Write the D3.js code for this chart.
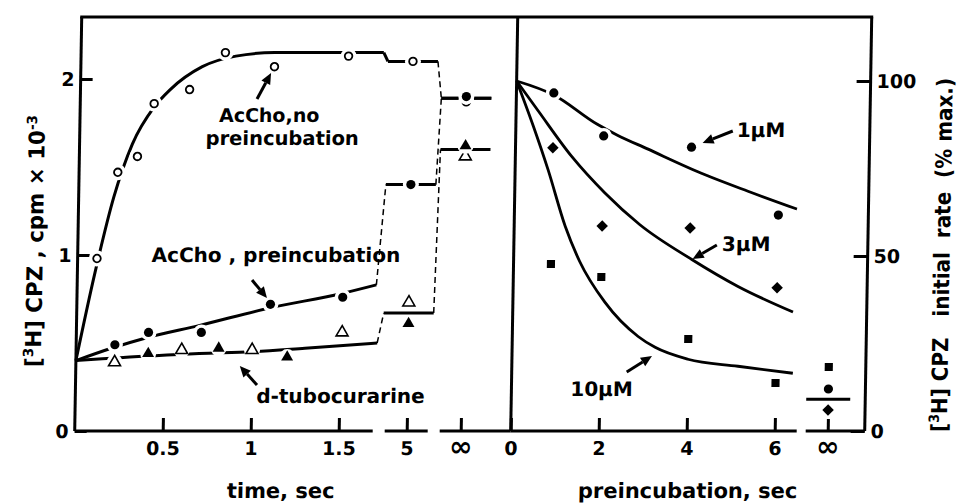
<!DOCTYPE html>
<html>
<head>
<meta charset="utf-8">
<script src="https://cdn.jsdelivr.net/npm/d3@7"></script>
<style>
  body { margin: 0; background: #fff; }
  svg { display: block; font-family: "DejaVu Sans", sans-serif; font-weight: bold; }
</style>
</head>
<body>
<svg id="chart" width="957" height="504"></svg>
<script>
// ---- left panel: [3H]CPZ uptake, cpm x 10^-3 vs time ----
const timeTicks = [0.5, 1, 1.5];
const breakLabels = ["5", "∞"];
const leftYTicks = [0, 1, 2];

// AcCho, no preincubation (open circles)
const noPreT = [0.11, 0.22, 0.33, 0.42, 0.62, 0.82, 1.10, 1.52];
const noPreV = [0.98, 1.47, 1.56, 1.86, 1.94, 2.15, 2.07, 2.13];
const noPreBreakV = [2.10, 1.87];
// AcCho, preincubation (filled circles)
const preT = [0.22, 0.41, 0.71, 1.10, 1.51];
const preV = [0.49, 0.56, 0.56, 0.72, 0.76];
const preBreakV = [1.40, 1.90];
// d-tubocurarine (open / filled triangles)
const tuboOpenT = [0.22, 0.60, 1.00, 1.51];
const tuboOpenV = [0.39, 0.46, 0.46, 0.56];
const tuboOpenBreakV = [0.73, 1.56];
const tuboFillT = [0.41, 0.81, 1.20];
const tuboFillV = [0.44, 0.47, 0.42];
const tuboFillBreakV = [0.61, 1.62];

// drawn curves
const noPreFitT = [0, 0.1, 0.2, 0.3, 0.42, 0.51, 0.69, 0.88, 1.1, 1.72];
const noPreFitV = [0.40, 0.90, 1.33, 1.63, 1.84, 1.94, 2.07, 2.13, 2.15, 2.15];
const noPreFitBreak = [2.10, 1.89];
const preFitT = [0, 0.2, 0.4, 0.7, 1.1, 1.5, 1.70];
const preFitV = [0.40, 0.47, 0.53, 0.60, 0.70, 0.78, 0.83];
const preFitBreak = [1.40, 1.89];
const tuboFitT = [0, 0.15, 0.7, 1.0, 1.3, 1.71];
const tuboFitV = [0.40, 0.41, 0.44, 0.45, 0.47, 0.50];
const tuboFitBreak = [0.67, 1.60];

// ---- right panel: initial rate (% max.) vs preincubation time ----
const preincTicks = [0, 2, 4, 6];
const rightYTicks = [0, 50, 100];
const preincT = [0.85, 2, 4, 6];
const rate1uM = [96.6, 84.3, 81.1, 61.7];
const rate3uM = [80.9, 58.6, 58.0, 40.9];
const rate10uM = [47.7, 44.0, 26.3, 13.7];
const rateInf = [12.0, 6.0, 18.3]; // 1, 3, 10 µM at ∞
const rateInfMean = 9.1;

const fit1T = [0, 0.85, 1.84, 2.3, 3, 4.32, 5.3, 6.42];
const fit1V = [100, 96, 87.7, 84.6, 80.6, 73.2, 68.5, 63.4];
const fit3T = [0, 0.5, 1.29, 2.05, 2.85, 4.05, 5.11, 6.37];
const fit3V = [100, 91.5, 78.3, 68, 59, 49, 41.3, 34];
const fit10T = [0, 0.4, 0.75, 1.16, 1.5, 2.09, 2.86, 3.25, 4, 5.14, 6.39];
const fit10V = [100, 87, 74.6, 58.5, 48.5, 36.8, 27, 23.9, 20.5, 18.5, 16.5];

const svg = d3.select("#chart");
// the printed figure is slightly sheared
const g = svg.append("g").attr("transform", "skewX(-0.97)");

const frameTop = 17, base = 431;
const xL = d3.scaleLinear().domain([0, 1.5]).range([82, 346]);
const xBreak = d3.scaleOrdinal().domain(breakLabels).range([414, 468]);
const yL = d3.scaleLinear().domain([0, 2]).range([base, 79]);
const xR = d3.scaleLinear().domain([0, 6]).range([518, 782]);
const xRinf = d3.scaleOrdinal().domain(["∞"]).range([835]);
const yR = d3.scaleLinear().domain([0, 100]).range([base, 81]);
const halfSeg = 25;
const plain = d => String(d);

function line(x1, y1, x2, y2, w, dash) {
  const l = g.append("line").attr("x1", x1).attr("y1", y1).attr("x2", x2).attr("y2", y2)
    .attr("stroke", "#000").attr("stroke-width", w || 3);
  if (dash) l.attr("stroke-dasharray", dash);
  return l;
}

// frame and broken x axes
line(xL(0), frameTop, 872, frameTop, 3).attr("stroke-linecap", "square");
line(xL(0), frameTop, xL(0), base, 3);
line(xR(0), frameTop, xR(0), base, 3);
line(872, frameTop, 872, base, 3);
line(xL(0), base, 380, base, 3);
line(392, base, 435, base, 3);
line(447, base, xR(0), base, 3);
line(xR(0), base, 804, base, 3);
line(813, base, 872, base, 3);

function styleAxis(sel) {
  sel.attr("font-family", null).attr("font-size", 19);
  sel.select(".domain").remove();
  sel.selectAll("line").attr("stroke-width", 3);
}

g.append("g").attr("transform", `translate(${xL(0)},0)`)
  .call(d3.axisLeft(yL).tickValues(leftYTicks).tickFormat(plain).tickSizeInner(-12).tickSizeOuter(0).tickPadding(6))
  .call(styleAxis);
g.append("g").attr("transform", `translate(0,${base})`)
  .call(d3.axisBottom(xL).tickValues(timeTicks).tickFormat(plain).tickSizeInner(-13).tickSizeOuter(0).tickPadding(11))
  .call(styleAxis);
g.append("g").attr("transform", `translate(0,${base})`)
  .call(d3.axisBottom(xBreak).tickSizeInner(-13).tickSizeOuter(0).tickPadding(11))
  .call(styleAxis);
g.append("g").attr("transform", `translate(872,0)`)
  .call(d3.axisRight(yR).tickValues(rightYTicks).tickFormat(plain).tickSizeInner(-14).tickSizeOuter(0).tickPadding(6))
  .call(styleAxis);
g.append("g").attr("transform", `translate(0,${base})`)
  .call(d3.axisBottom(xR).tickValues(preincTicks).tickFormat(plain).tickSizeInner(-13).tickSizeOuter(0).tickPadding(11))
  .call(styleAxis);
g.append("g").attr("transform", `translate(0,${base})`)
  .call(d3.axisBottom(xRinf).tickSizeInner(-12).tickSizeOuter(0).tickPadding(11))
  .call(styleAxis);
g.selectAll(".tick text").filter(d => d === "∞").attr("font-size", 28).attr("dy", "0.5em");

// ---- left curves ----
const curveL = d3.line().x(d => xL(d[0])).y(d => yL(d[1])).curve(d3.curveMonotoneX);
function fitPath(ts, vs) {
  g.append("path").datum(d3.zip(ts, vs)).attr("d", curveL)
    .attr("fill", "none").attr("stroke", "#000").attr("stroke-width", 3);
}
function breakSegs(lastT, lastV, lv, solidJoin) {
  const x5a = xBreak("5") - halfSeg, x5b = xBreak("5") + halfSeg;
  const xia = xBreak("∞") - halfSeg, xib = xBreak("∞") + halfSeg;
  if (solidJoin) line(xL(lastT), yL(lastV), x5a, yL(lv[0]), 3);
  else line(xL(lastT), yL(lastV), x5a, yL(lv[0]), 1.5, "6 4");
  line(x5a, yL(lv[0]), x5b, yL(lv[0]), 3);
  line(x5b, yL(lv[0]), xia, yL(lv[1]), 1.5, "6 4");
  line(xia, yL(lv[1]), xib, yL(lv[1]), 3);
}
fitPath(noPreFitT, noPreFitV);
breakSegs(noPreFitT[noPreFitT.length - 1], noPreFitV[noPreFitV.length - 1], noPreFitBreak, true);
fitPath(preFitT, preFitV);
breakSegs(preFitT[preFitT.length - 1], preFitV[preFitV.length - 1], preFitBreak, false);
fitPath(tuboFitT, tuboFitV);
breakSegs(tuboFitT[tuboFitT.length - 1], tuboFitV[tuboFitV.length - 1], tuboFitBreak, false);

// ---- right curves ----
const curveR = d3.line().x(d => xR(d[0])).y(d => yR(d[1])).curve(d3.curveMonotoneX);
[[fit1T, fit1V], [fit3T, fit3V], [fit10T, fit10V]].forEach(([ts, vs]) => {
  g.append("path").datum(d3.zip(ts, vs)).attr("d", curveR)
    .attr("fill", "none").attr("stroke", "#000").attr("stroke-width", 2.8);
});
line(xRinf("∞") - 22, yR(rateInfMean), xRinf("∞") + 22, yR(rateInfMean), 3);

// ---- markers ----
const tri = d3.symbol(d3.symbolTriangle, 62)();
const sq = d3.symbol(d3.symbolSquare, 66)();
function points(pts, kind, halo) {
  if (halo) {
    g.append("g").selectAll("circle").data(pts).join("circle")
      .attr("cx", d => d[0]).attr("cy", d => d[1]).attr("r", halo).attr("fill", "#fff");
  }
  const m = g.append("g").selectAll("g").data(pts).join("g")
    .attr("transform", d => `translate(${d[0]},${d[1]})`);
  if (kind === "oc") m.append("circle").attr("r", 3.8).attr("fill", "#fff").attr("stroke", "#000").attr("stroke-width", 1.8);
  if (kind === "fc") m.append("circle").attr("r", 4.6).attr("fill", "#000");
  if (kind === "ot") m.append("path").attr("d", tri).attr("fill", "#fff").attr("stroke", "#000").attr("stroke-width", 1.6);
  if (kind === "ft") m.append("path").attr("d", tri).attr("fill", "#000");
  if (kind === "sq") m.append("path").attr("d", sq).attr("fill", "#000");
  if (kind === "di") m.append("path").attr("d", sq).attr("transform", "rotate(45)").attr("fill", "#000");
}
const leftPts = (ts, vs, bv) => d3.zip(ts, vs).map(d => [xL(d[0]), yL(d[1])])
  .concat(breakLabels.map((k, i) => [xBreak(k), yL(bv[i])]));
points(leftPts(noPreT, noPreV, noPreBreakV), "oc", 8);
points(leftPts(preT, preV, preBreakV), "fc", 8);
points(leftPts(tuboOpenT, tuboOpenV, tuboOpenBreakV), "ot", 8);
points(leftPts(tuboFillT, tuboFillV, tuboFillBreakV), "ft", 8);

const rightPts = vs => d3.zip(preincT, vs).map(d => [xR(d[0]), yR(d[1])]);
points(rightPts(rate1uM), "fc", 8);
points(rightPts(rate3uM), "di", 0);
points(rightPts(rate10uM), "sq", 0);
points([[xRinf("∞"), yR(rateInf[0])]], "fc", 0);
points([[xRinf("∞"), yR(rateInf[1])]], "di", 0);
points([[xRinf("∞"), yR(rateInf[2])]], "sq", 0);

// ---- labels and arrows ----
function label(x, y, txt, size, anchor) {
  return g.append("text").attr("x", x).attr("y", y).attr("font-size", size || 20)
    .attr("text-anchor", anchor || "start").text(txt);
}
function arrow(x1, y1, x2, y2) {
  const a = Math.atan2(y2 - y1, x2 - x1), L = 11, W = 5;
  const bx = x2 - L * Math.cos(a), by = y2 - L * Math.sin(a);
  line(x1, y1, bx, by, 3);
  g.append("path").attr("fill", "#000")
    .attr("d", `M${x2},${y2}L${bx - W * Math.sin(a)},${by + W * Math.cos(a)}L${bx + W * Math.sin(a)},${by - W * Math.cos(a)}Z`);
}
label(221, 122, "AcCho,no", 19);
label(208, 145, "preincubation", 19.5);
arrow(258.7, 99, 272.3, 73);
label(156, 262, "AcCho , preincubation");
arrow(256.8, 280, 272, 298);
label(263, 403, "d-tubocurarine");
arrow(263.5, 385, 246, 366);
label(739, 137, "1µM");
arrow(735, 131, 705, 143);
label(726, 251, "3µM");
arrow(721, 245, 697, 259);
label(577, 396, "10µM");
arrow(633, 372, 658, 356);

label(289, 498, "time, sec", 21, "middle");
label(696, 498, "preincubation, sec", 21, "middle");

const yl = g.append("text").attr("transform", "translate(47,241) rotate(-90)")
  .attr("text-anchor", "middle").attr("font-size", 22)
  .attr("textLength", 252).attr("lengthAdjust", "spacingAndGlyphs");
yl.append("tspan").text("[");
yl.append("tspan").attr("dy", -8).attr("font-size", 14).text("3");
yl.append("tspan").attr("dy", 8).text("H] CPZ , cpm × 10");
yl.append("tspan").attr("dy", -8).attr("font-size", 14).text("-3");

const yr = g.append("text").attr("transform", "translate(954,255) rotate(-90)")
  .attr("text-anchor", "middle").attr("font-size", 22).style("white-space", "pre")
  .attr("textLength", 354).attr("lengthAdjust", "spacingAndGlyphs");
yr.append("tspan").text("[");
yr.append("tspan").attr("dy", -8).attr("font-size", 14).text("3");
yr.append("tspan").attr("dy", 8).text("H] CPZ   initial  rate  (% max.)");
</script>
</body>
</html>
